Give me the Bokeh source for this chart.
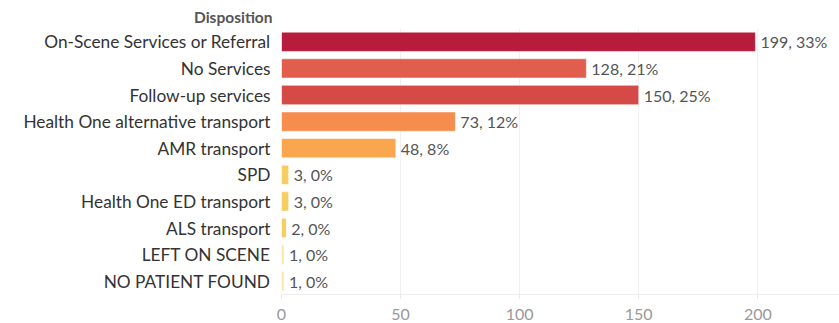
from bokeh.plotting import figure
from bokeh.models import ColumnDataSource, FixedTicker
from bokeh.core.properties import value
from bokeh.embed import file_html
from bokeh.resources import INLINE

categories = ["On-Scene Services or Referral", "No Services", "Follow-up services",
              "Health One alternative transport", "AMR transport", "SPD",
              "Health One ED transport", "ALS transport", "LEFT ON SCENE", "NO PATIENT FOUND"]
counts = [199, 128, 150, 73, 48, 3, 3, 2, 1, 1]
percents = ["33%", "21%", "25%", "12%", "8%", "0%", "0%", "0%", "0%", "0%"]
colors = ["#b71c3d", "#e15e4c", "#d44a47", "#f68c4e", "#f9a64f", "#f6cd62",
          "#f6cd62", "#f6cd62", "#f9e3a3", "#f9e3a3"]
x_ticks = [0, 50, 100, 150, 200]

n = len(categories)
ypos = [n - 1 - i for i in range(n)]
labels = [f"{c}, {p}" for c, p in zip(counts, percents)]

src = ColumnDataSource(dict(y=ypos, right=counts, color=colors, label=labels))

FONT = "Lato"
FRAME_W = 558

p = figure(output_backend="svg", toolbar_location=None,
           frame_width=FRAME_W, frame_height=266,
           x_range=(0, 234.3), y_range=(-0.5, n - 0.5),
           min_border_left=281, min_border_right=0, min_border_top=28, min_border_bottom=29)
p.outline_line_color = None
p.background_fill_color = "white"

p.hbar(y="y", left=0, right="right", height=0.725, color="color", source=src,
       line_color="white", line_alpha=0.5, line_width=1)
p.text(x="right", y="y", text="label", source=src, x_offset=5,
       text_align="left", text_baseline="middle", text_font=value(FONT),
       text_font_size="16px", text_color="#555555")

# axes
p.yaxis.ticker = FixedTicker(ticks=ypos)
p.yaxis.major_label_overrides = {y: c for y, c in zip(ypos, categories)}
p.yaxis.major_label_text_font = FONT
p.yaxis.major_label_text_font_size = "17.3px"
p.yaxis.major_label_text_color = "#333333"
p.yaxis.axis_line_color = None
p.yaxis.major_tick_line_color = None
p.yaxis.minor_tick_line_color = None
p.yaxis.major_label_standoff = 5

p.xaxis.ticker = FixedTicker(ticks=x_ticks)
p.xaxis.major_label_text_font = FONT
p.xaxis.major_label_text_font_size = "16px"
p.xaxis.major_label_text_color = "#999999"
p.xaxis.axis_line_color = "#eeeeee"
p.xaxis.major_tick_line_color = "#e6e6e6"
p.xaxis.major_tick_in = 0
p.xaxis.major_tick_out = 4
p.xaxis.minor_tick_line_color = None
p.xaxis.major_label_standoff = 10

p.ygrid.grid_line_color = None
p.xgrid.ticker = FixedTicker(ticks=x_ticks)
p.xgrid.grid_line_color = "#f0f0f0"

# header above the category labels
p.title.text = "Disposition"
p.title.align = "right"
p.title.offset = FRAME_W + 9
p.title.text_font = FONT
p.title.text_font_size = "15.5px"
p.title.text_font_style = "bold"
p.title.text_color = "#555555"
p.title.vertical_align = "bottom"
p.title.standoff = 6

open("out.html", "w").write(file_html(p, INLINE))
